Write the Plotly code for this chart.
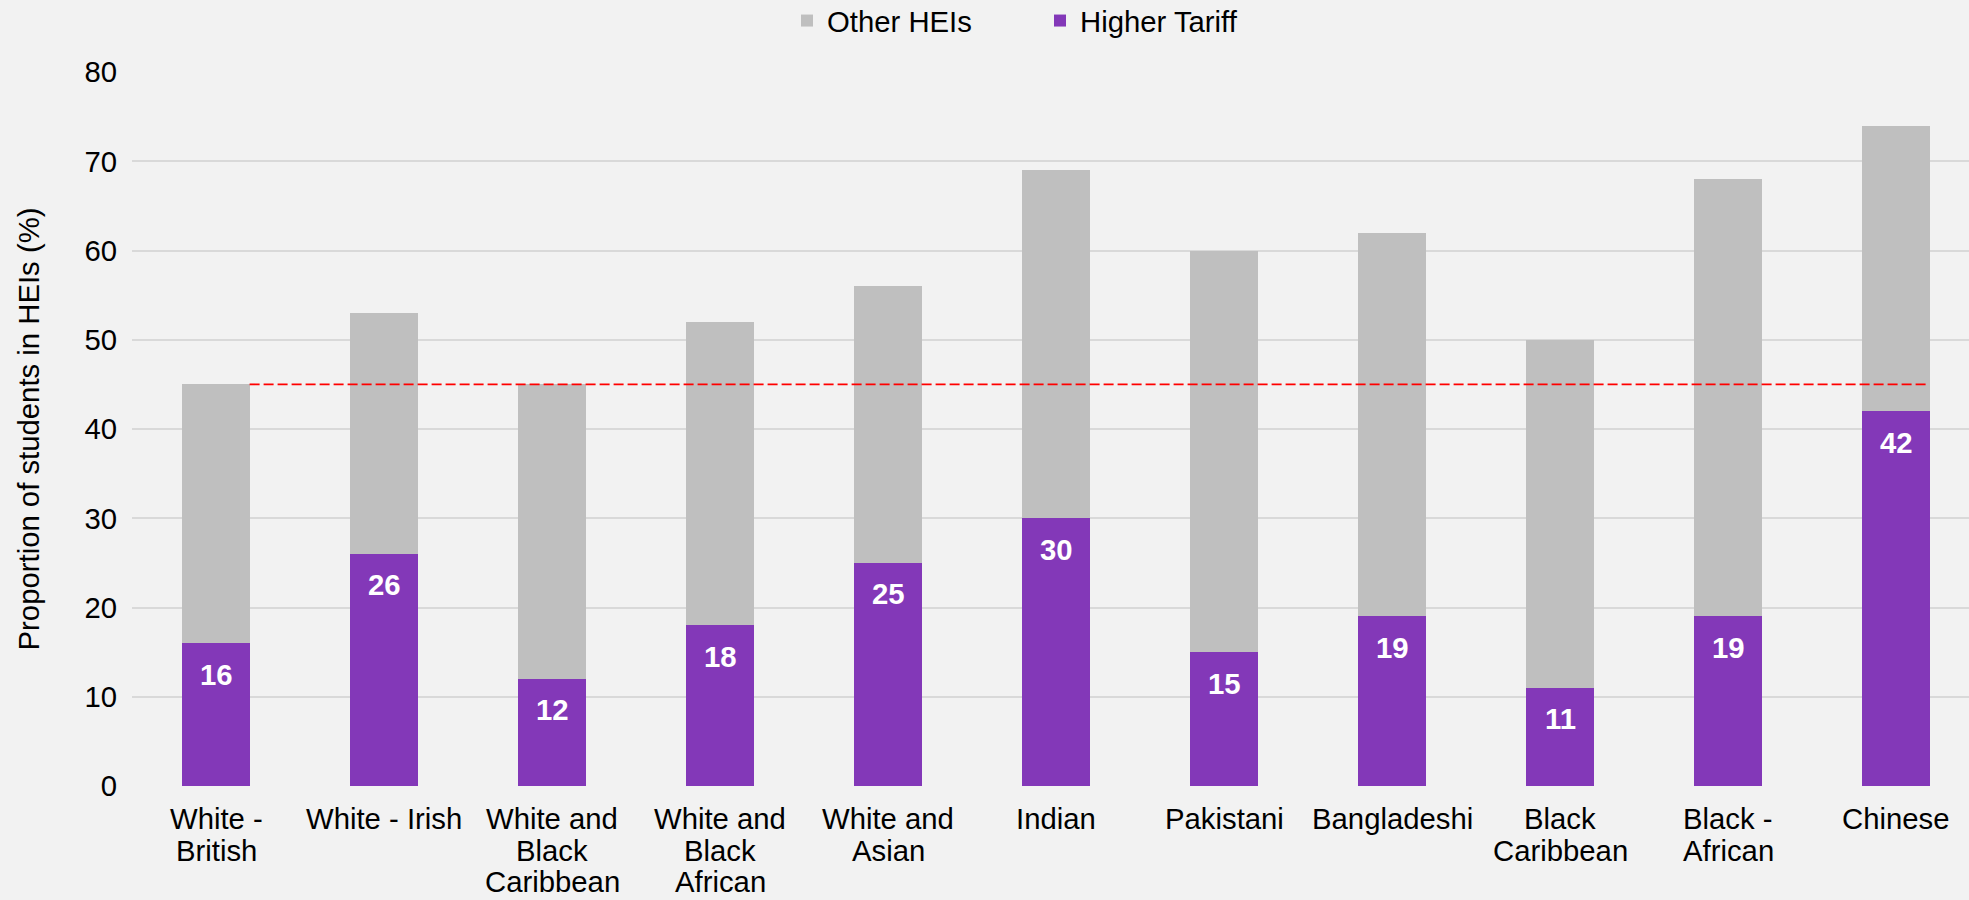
import plotly.graph_objects as go

# Ethnic groups along the x axis (<br> marks a line break in the label)
categories = [
    "White -<br>British", "White - Irish", "White and<br>Black<br>Caribbean",
    "White and<br>Black<br>African", "White and<br>Asian", "Indian", "Pakistani",
    "Bangladeshi", "Black<br>Caribbean", "Black -<br>African", "Chinese",
]
# Proportion of students at higher-tariff institutions (%)
higher_tariff = [16, 26, 12, 18, 25, 30, 15, 19, 11, 19, 42]
# Total proportion of students in any HEI (%)
total_hei = [45, 53, 45, 52, 56, 69, 60, 62, 50, 68, 74]
# Remaining share at other HEIs (%)
other_heis = [t - h for t, h in zip(total_hei, higher_tariff)]
# Reference level drawn as a dashed line (White - British total)
reference_level = total_hei[0]

y_ticks = [0, 10, 20, 30, 40, 50, 60, 70, 80]

FONT = "Liberation Sans, Arial, sans-serif"
FS = 29.3
PURPLE = "#8338B8"
GREY = "#BFBFBF"
BG = "#F2F2F2"
GRID = "#D9D9D9"

x_idx = list(range(len(categories)))
bar_w = 0.4

fig = go.Figure()
fig.add_trace(go.Bar(
    x=x_idx, y=higher_tariff, name="Higher Tariff",
    marker=dict(color=PURPLE, line=dict(width=0)), width=bar_w,
    hoverinfo="skip",
))
fig.add_trace(go.Bar(
    x=x_idx, y=other_heis, name="Other HEIs",
    marker=dict(color=GREY, line=dict(width=0)), width=bar_w,
    hoverinfo="skip",
))

# Dashed reference line, from the right edge of the first bar to the right edge of the last
fig.add_trace(go.Scatter(
    x=[x_idx[0] + bar_w / 2, x_idx[-1] + bar_w / 2],
    y=[reference_level, reference_level],
    mode="lines", line=dict(color="#FF0000", width=1.8, dash="10px,4px"),
    showlegend=False, hoverinfo="skip",
))

# White value labels just inside the top of each purple segment
for i, v in zip(x_idx, higher_tariff):
    fig.add_annotation(
        x=i, y=v, text=str(v), showarrow=False, yshift=-31,
        font=dict(family=FONT, size=FS, color="white", weight="bold"),
        xanchor="center", yanchor="middle",
    )

# Category labels under the axis, one annotation per line for tighter line spacing
LINE_OFFSETS = [-32, -64, -95]
for i, label in zip(x_idx, categories):
    for k, line in enumerate(label.split("<br>")):
        fig.add_annotation(
            x=i, xref="x", y=0, yref="paper", yshift=LINE_OFFSETS[k],
            text=line, showarrow=False, xanchor="center", yanchor="middle",
            font=dict(family=FONT, size=FS, color="#000000"),
        )

fig.update_layout(
    width=1969, height=900,
    margin=dict(l=132, r=0, t=72, b=114),
    paper_bgcolor=BG, plot_bgcolor=BG,
    barmode="stack", bargap=0.6,
    font=dict(family=FONT, size=FS, color="#000000"),
    legend=dict(
        orientation="h", traceorder="reversed",
        xref="container", yref="container",
        x=787 / 1969, xanchor="left", y=1 - 21 / 900, yanchor="middle",
        entrywidth=208, entrywidthmode="pixels",
        font=dict(family=FONT, size=FS, color="#000000"),
        bgcolor="rgba(0,0,0,0)",
    ),
    xaxis=dict(
        tickmode="array", tickvals=x_idx, showticklabels=False,
        range=[-0.5, -0.5 + 1837 / 168],
        showgrid=False, zeroline=False, showline=False, ticks="",
        automargin=False,
    ),
    yaxis=dict(
        range=[0, 80], tickmode="array", tickvals=y_ticks,
        showgrid=True, gridcolor=GRID, gridwidth=2,
        zeroline=False, showline=False, ticks="",
        ticklabelstandoff=14, automargin=False,
        tickfont=dict(family=FONT, size=FS, color="#000000"),
        title=dict(text="Proportion of students in HEIs (%)",
                   font=dict(family=FONT, size=FS, color="#000000"), standoff=36),
    ),
)

fig.write_html("out.html")
